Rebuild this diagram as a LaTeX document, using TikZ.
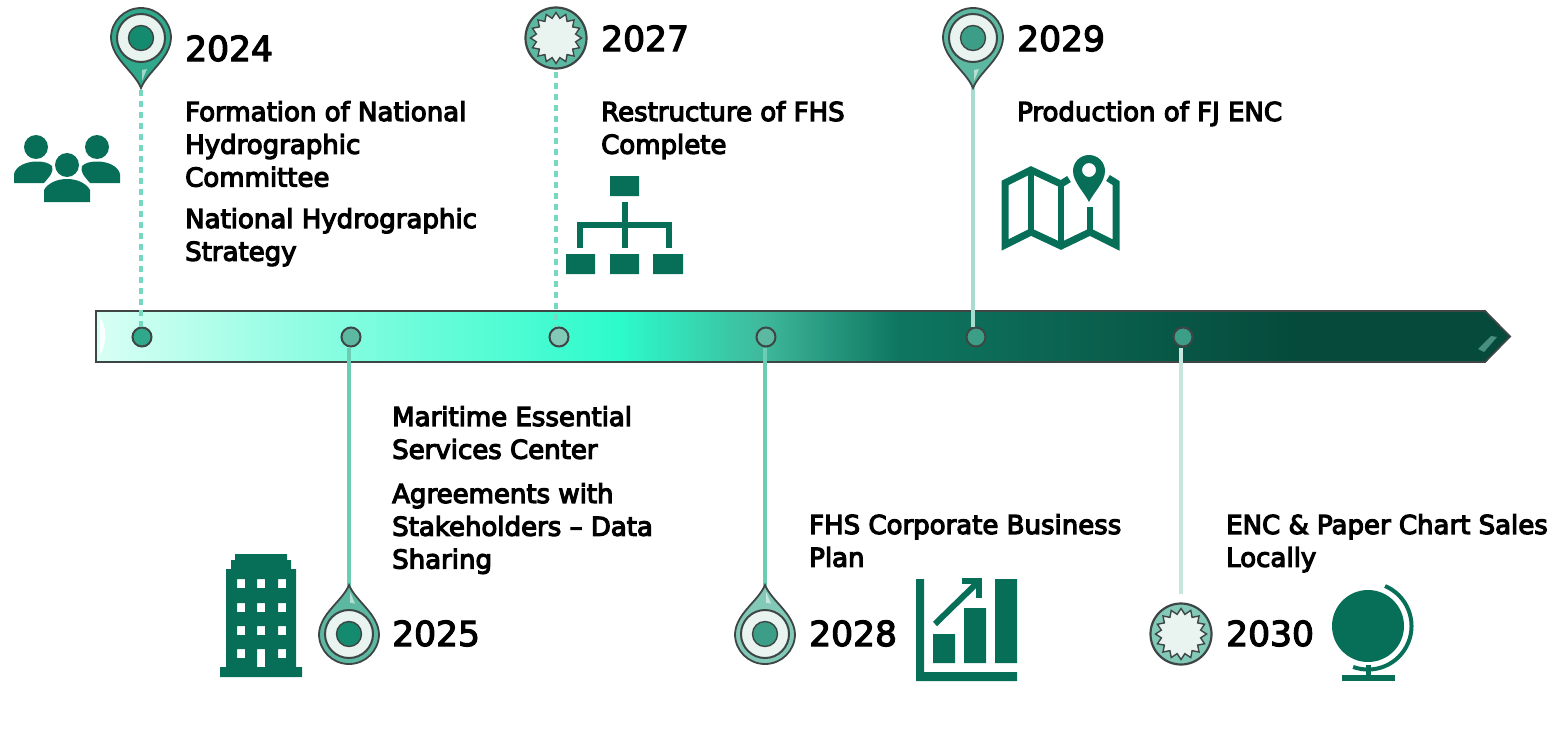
\documentclass[tikz,border=0pt]{standalone}
\usepackage{fontspec}
\usetikzlibrary{calc}
\setmainfont{DejaVu Sans}
\newfontfamily\bodyfont[FakeBold=4.5]{DejaVu Sans}
\newfontfamily\yearfont[FakeBold=3.5]{DejaVu Sans}
\definecolor{icon}{HTML}{076F58}
\definecolor{ringd}{HTML}{3D4644}
\definecolor{pinA}{HTML}{2FA88C}
\definecolor{pinB}{HTML}{5DB8A2}
\definecolor{pinC}{HTML}{82C9B8}
\definecolor{dotA}{HTML}{148A6E}
\definecolor{dotB}{HTML}{3C9E87}
\definecolor{paper}{HTML}{E9F4F1}
\definecolor{lnA}{HTML}{74D9C0}
\definecolor{lnB}{HTML}{6CCDB5}
\definecolor{lnC}{HTML}{A8DCCF}
\definecolor{lnD}{HTML}{C6E6DE}
\definecolor{sa}{HTML}{D9FFF4}
\definecolor{sb}{HTML}{93FDE3}
\definecolor{sc}{HTML}{2CFBCB}
\definecolor{sd}{HTML}{3FB99C}
\definecolor{se}{HTML}{0E7660}
\definecolor{sf}{HTML}{0A5F4D}
\definecolor{sg}{HTML}{054A3B}
\pgfdeclarehorizontalshading{barshade}{100bp}{%
 color(0bp)=(sa);color(25bp)=(sa);
 color(32bp)=(sb);color(43.5bp)=(sc);
 color(48.5bp)=(sd);color(53.4bp)=(se);
 color(60.5bp)=(sf);color(67.6bp)=(sg);
 color(100bp)=(sg)}
\tikzset{
 x=1pt,y=-1pt,
 year/.style={anchor=base west,inner sep=0pt,font=\yearfont\fontsize{34.5}{38}\selectfont,text=black},
 body/.style={anchor=north west,inner sep=0pt,align=left,font=\bodyfont\fontsize{26}{32.8}\selectfont,text=black},
 stopdot/.style={circle,draw=ringd,line width=2pt,minimum size=19pt,inner sep=0pt,fill=#1},
 anchorpt/.style={circle,inner sep=0pt,minimum size=0pt},
 dashlink/.style={draw=#1,line width=3.2pt,dash pattern=on 6pt off 5pt},
 solidlink/.style={draw=#1,line width=3.2pt},
 ic/.style={fill=icon,draw=none},
 icl/.style={draw=icon,fill=none},
 ring/.style={draw=ringd,line width=2pt},
}
% centre (#1,#2), tip (#1,#3), rim #4, dot #5, arc sweep #6
\newcommand{\droppin}[6]{%
 \fill[#4,draw=ringd,line width=1.8pt]
   ($(#1,#2)+(-30,0)$) .. controls ($(#1,#2)+(-29,{(#3-#2)*0.42})$) and ($(#1,#2)+(-7,{(#3-#2)*0.66})$) .. (#1,#3)
   .. controls ($(#1,#2)+(7,{(#3-#2)*0.66})$) and ($(#1,#2)+(29,{(#3-#2)*0.42})$) .. ($(#1,#2)+(30,0)$)
   arc[start angle=0,delta angle=#6,radius=30pt] -- cycle;
 \fill[white,opacity=.55] ($(#1,#2)+(1,{(#3-#2)*0.64})$) -- ($(#1,#2)+(6,{(#3-#2)*0.62})$) -- ($(#1,#2)+(1,{(#3-#2)*0.86})$) -- cycle;
 \draw[ring,fill=paper] (#1,#2) circle[radius=24pt];
 \draw[ring,fill=#5,line width=1.4pt] (#1,#2) circle[radius=12.5pt];
}
\newcommand{\badge}[3]{%
 \draw[ring,fill=#3,line width=2.2pt] (#1,#2) circle[radius=30.5pt];
 \draw[ring,fill=paper,line width=1.4pt] plot[samples at={0,...,31}] ({#1+(mod(\x,2)==0?25.5:20)*cos(\x*11.25)},{#2+(mod(\x,2)==0?25.5:20)*sin(\x*11.25)}) -- cycle;
}
\begin{document}
\begin{tikzpicture}
\useasboundingbox (0,0) rectangle (1555,728);
% bar
\path[shading=barshade,draw=ringd,line width=1.8pt] (96,311) -- (1485,311) -- (1510,336.5) -- (1485,362) -- (96,362) -- cycle;
\fill[white,opacity=.85] (100,318) .. controls (107,325) and (107,345) .. (100,355) -- cycle;
\fill[pinC,opacity=.55] (1478,349) -- (1491,336) -- (1497,337) -- (1484,352) -- cycle;
% stops
\node[stopdot=pinA] (s24) at (142,337) {};
\node[stopdot=pinB] (s25) at (351,337) {};
\node[stopdot=pinC] (s27) at (559,337) {};
\node[stopdot=pinB] (s28) at (766,337) {};
\node[stopdot=dotB] (s29) at (976,337) {};
\node[stopdot=dotB] (s30) at (1183,337) {};
% anchors of the markers
\node[anchorpt] (p24) at (141,90) {};
\node[anchorpt] (p27) at (556,72) {};
\node[anchorpt] (p25) at (349,588) {};
\node[anchorpt] (p28) at (765,588) {};
\node[anchorpt] (p29) at (973,86) {};
\node[anchorpt] (p30) at (1181,594) {};
% connectors
\draw[dashlink=lnA] (p24) -- (p24 |- s24.north);
\draw[dashlink=lnA] (p27) -- (p27 |- s27.north);
\draw[solidlink=lnB] (p25) -- (p25 |- s25.south);
\draw[solidlink=lnB] (p28) -- (p28 |- s28.south);
\draw[solidlink=lnC] (p29) -- (p29 |- s29.north);
\draw[solidlink=lnD] (p30) -- (p30 |- s30.south);
% markers
\droppin{141}{38}{88}{pinA}{dotA}{180}
\droppin{973}{38}{88}{pinB}{dotB}{180}
\droppin{349}{634}{585}{pinB}{dotA}{-180}
\droppin{765}{634}{585}{pinC}{dotB}{-180}
\badge{556}{38}{pinB}
\badge{1181}{634}{pinC}
% years
\node[year] (y24) at (185,61) {2024};
\node[year] (y27) at (601,51) {2027};
\node[year] (y29) at (1017,51) {2029};
\node[year] (y25) at (392,646) {2025};
\node[year] (y28) at (809,646) {2028};
\node[year] (y30) at (1226,646) {2030};
% texts
\node[body] (t1) at (185,101) {Formation of National\\Hydrographic\\Committee};
\node[body] (t2) at (185,208) {National Hydrographic\\Strategy};
\node[body] (t3) at (601,101) {Restructure of FHS\\Complete};
\node[body] (t4) at (1017,101) {Production of FJ ENC};
\node[body] (t5) at (392,406) {Maritime Essential\\Services Center};
\node[body] (t6) at (392,483) {Agreements with\\Stakeholders – Data\\Sharing};
\node[body] (t7) at (809,514) {FHS Corporate Business\\Plan};
\node[body] (t8) at (1226,514) {ENC \& Paper Chart Sales\\Locally};
% people icon
\fill[ic] (36,147) circle[radius=12pt] (97,147) circle[radius=12pt];
\fill[ic] (14,183) -- (14,174) .. controls (16,166) and (26,161.5) .. (37,161.5) .. controls (44,161.5) and (49,163) .. (52,166) .. controls (54,172) and (50,176) .. (44,183) -- cycle;
\fill[ic] (120,183) -- (120,174) .. controls (118,166) and (108,161.5) .. (97,161.5) .. controls (90,161.5) and (85,163) .. (82,166) .. controls (80,172) and (84,176) .. (90,183) -- cycle;
\fill[ic] (67,165) circle[radius=12pt];
\fill[ic] (44,202) -- (44,190) .. controls (48,183) and (57,179) .. (67,179) .. controls (77,179) and (86,183) .. (90,190) -- (90,202) -- cycle;
% org chart icon
\fill[ic] (610,176) rectangle (639,196) (566,254) rectangle (595,274) (610,254) rectangle (639,274) (653,254) rectangle (683,274);
\draw[icl,line width=6pt] (624.5,202) -- (624.5,248) (580,248) -- (580,225) -- (669,225) -- (669,248);
% map icon
\draw[icl,line width=7pt,line join=miter] (1069,179) -- (1061,184) -- (1031,170) -- (1005,183) -- (1005,245) -- (1031,232) -- (1061,246) -- (1090,232) -- (1116,245) -- (1116,183) -- (1108,178);
\draw[icl,line width=6pt] (1031,170) -- (1031,232) (1061,184) -- (1061,246) (1090,207) -- (1090,232);
\fill[ic,even odd rule] (1089,202) .. controls (1084,192) and (1073,182) .. (1073,171) arc[start angle=180,delta angle=-180,radius=16pt] .. controls (1105,182) and (1094,192) .. (1089,202) -- cycle (1089,170) circle[radius=7pt];
% building icon
\fill[ic,even odd rule] (235,554) -- (287,554) -- (287,560) -- (291,560) -- (291,569) -- (296,569) -- (296,667) -- (302,667) -- (302,677) -- (220,677) -- (220,667) -- (226,667) -- (226,569) -- (231,569) -- (231,560) -- (235,560) -- cycle
 (237,579) rectangle (245,588) (257,579) rectangle (265,588) (278,579) rectangle (286,588)
 (237,603) rectangle (245,612) (257,603) rectangle (265,612) (278,603) rectangle (286,612)
 (237,626) rectangle (245,635) (257,626) rectangle (265,635) (278,626) rectangle (286,635)
 (237,649) rectangle (245,658) (257,649) rectangle (265,667) (278,649) rectangle (286,658);
% chart icon
\fill[ic] (916,579) -- (924,579) -- (924,672) -- (1017,672) -- (1017,681) -- (916,681) -- cycle;
\fill[ic] (933,634) rectangle (955,663) (964,608) rectangle (986,663) (995,579) rectangle (1017,663);
\draw[icl,line width=6pt] (935,624) -- (977,583);
\draw[icl,line width=6pt] (962,581) -- (979,581) -- (979,598);
% globe icon
\fill[ic] (1368,626) circle[radius=36pt];
\draw[icl,line width=4pt] (1385,586) arc[start angle=67,delta angle=-177,radius=43.5pt];
\draw[icl,line width=5pt] (1368,665) -- (1368,677);
\fill[ic] (1342,675) rectangle (1395,681);
\end{tikzpicture}
\end{document}
